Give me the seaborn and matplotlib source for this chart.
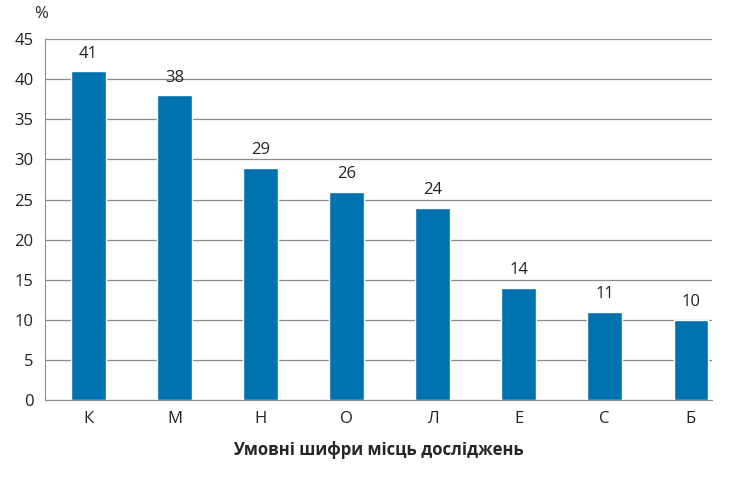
import matplotlib
matplotlib.use("Agg")
import matplotlib.pyplot as plt
import seaborn as sns
import pandas as pd

categories = ["К", "М", "Н", "О", "Л", "Е", "С", "Б"]
values = [41, 38, 29, 26, 24, 14, 11, 10]
yticks = [0, 5, 10, 15, 20, 25, 30, 35, 40, 45]

sns.set_style("white")
plt.rcParams['font.family'] = ['Open Sans', 'DejaVu Sans']

df = pd.DataFrame({"cat": categories, "val": values})
fig = plt.figure(figsize=(7.32, 4.78), dpi=100)
ax = fig.add_axes([0.061, 0.163, 0.912, 0.755])
sns.barplot(data=df, x="cat", y="val", color="#0072B0", saturation=1, width=0.4, ax=ax, zorder=3)
ax.set_ylim(0, 45)
ax.set_xlim(-0.51, 7.25)
ax.set_yticks(yticks)
ax.yaxis.grid(True, color="#8c8c8c", linewidth=0.9, zorder=0)
for s in ["top", "right"]:
    ax.spines[s].set_visible(False)
for s in ["left", "bottom"]:
    ax.spines[s].set_color("#8c8c8c")
ax.tick_params(axis="both", labelsize=12, colors="#222222", length=0, pad=8)
ax.tick_params(axis="y", length=4, color="#8c8c8c", pad=4)
for i, v in enumerate(values):
    ax.text(i, v + 1.2, str(v), ha="center", va="bottom", fontsize=12, color="#222222")
ax.set_xlabel("Умовні шифри місць досліджень", fontsize=12, fontweight="bold", labelpad=10)
ax.set_ylabel("")
fig.text(0.047, 0.955, "%", fontsize=12, ha="left", va="bottom")
fig.savefig("out.png", dpi=100)
